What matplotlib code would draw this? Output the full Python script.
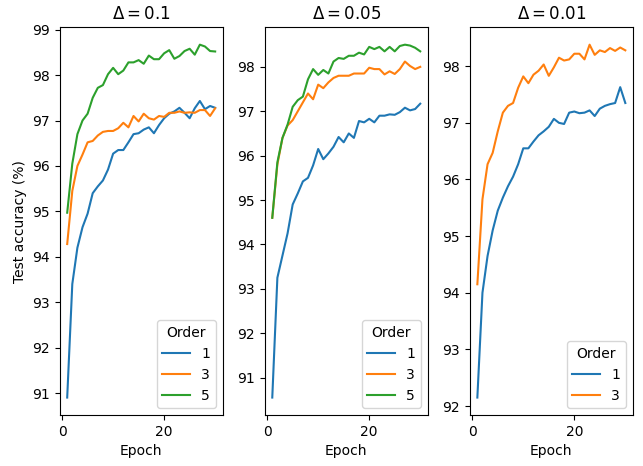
import numpy as np
import matplotlib
matplotlib.use('Agg')
import matplotlib.pyplot as plt

epochs = np.arange(1, 31)

# Delta = 0.1
d01_order1 = [90.9, 93.4, 94.2, 94.65, 94.95, 95.4, 95.55, 95.68, 95.92, 96.27,
              96.35, 96.35, 96.52, 96.7, 96.72, 96.8, 96.85, 96.72, 96.9, 97.05,
              97.15, 97.2, 97.28, 97.17, 97.05, 97.27, 97.43, 97.25, 97.32, 97.28]
d01_order3 = [94.28, 95.45, 96.0, 96.25, 96.52, 96.55, 96.67, 96.75, 96.77, 96.77,
              96.83, 96.95, 96.85, 97.1, 96.98, 97.15, 97.05, 97.02, 97.1, 97.08,
              97.17, 97.17, 97.2, 97.17, 97.18, 97.17, 97.23, 97.23, 97.1, 97.27]
d01_order5 = [94.97, 96.05, 96.7, 97.0, 97.15, 97.5, 97.72, 97.78, 98.02, 98.16,
              98.02, 98.1, 98.28, 98.28, 98.33, 98.25, 98.43, 98.35, 98.35, 98.48,
              98.55, 98.36, 98.42, 98.53, 98.58, 98.45, 98.67, 98.63, 98.53, 98.52]

# Delta = 0.05
d005_order1 = [90.55, 93.25, 93.75, 94.25, 94.9, 95.15, 95.42, 95.5, 95.78, 96.15,
               95.92, 96.05, 96.2, 96.42, 96.3, 96.5, 96.4, 96.78, 96.75, 96.83,
               96.75, 96.9, 96.9, 96.93, 96.92, 96.98, 97.08, 97.02, 97.05, 97.17]
d005_order3 = [94.6, 95.8, 96.4, 96.68, 96.8, 97.0, 97.2, 97.4, 97.27, 97.6,
               97.52, 97.65, 97.75, 97.8, 97.8, 97.8, 97.85, 97.85, 97.85, 97.98,
               97.95, 97.95, 97.83, 97.9, 97.84, 97.95, 98.12, 98.02, 97.95, 98.0]
d005_order5 = [94.6, 95.85, 96.4, 96.7, 97.1, 97.25, 97.33, 97.72, 97.95, 97.82,
               97.93, 97.85, 98.12, 98.2, 98.18, 98.25, 98.25, 98.32, 98.28, 98.45,
               98.4, 98.45, 98.35, 98.45, 98.35, 98.47, 98.5, 98.48, 98.43, 98.35]

# Delta = 0.01
d001_order1 = [92.15, 94.0, 94.65, 95.1, 95.45, 95.68, 95.88, 96.05, 96.27, 96.55,
               96.55, 96.67, 96.78, 96.85, 96.93, 97.07, 97.0, 96.98, 97.18, 97.2,
               97.17, 97.18, 97.22, 97.12, 97.25, 97.3, 97.33, 97.35, 97.63, 97.35]
d001_order3 = [94.15, 95.65, 96.27, 96.47, 96.85, 97.18, 97.3, 97.35, 97.62, 97.82,
               97.7, 97.85, 97.92, 98.03, 97.83, 97.98, 98.15, 98.1, 98.12, 98.22,
               98.22, 98.12, 98.38, 98.2, 98.28, 98.25, 98.32, 98.27, 98.33, 98.28]

panels = [
    ('0.1', [('1', d01_order1), ('3', d01_order3), ('5', d01_order5)]),
    ('0.05', [('1', d005_order1), ('3', d005_order3), ('5', d005_order5)]),
    ('0.01', [('1', d001_order1), ('3', d001_order3)]),
]

fig, axes = plt.subplots(1, 3, figsize=(6.43, 4.66), dpi=100)

for ax, (delta, series) in zip(axes, panels):
    for order, values in series:
        ax.plot(epochs, values, label=order)
    ax.set_title(r'$\Delta = ' + delta + '$')
    ax.set_xlabel('Epoch')
    ax.legend(title='Order', loc='lower right')

axes[0].set_ylabel('Test accuracy (%)')

plt.subplots_adjust(left=0.093, right=0.984, top=0.942, bottom=0.109, wspace=0.26)
plt.savefig('out.png')
